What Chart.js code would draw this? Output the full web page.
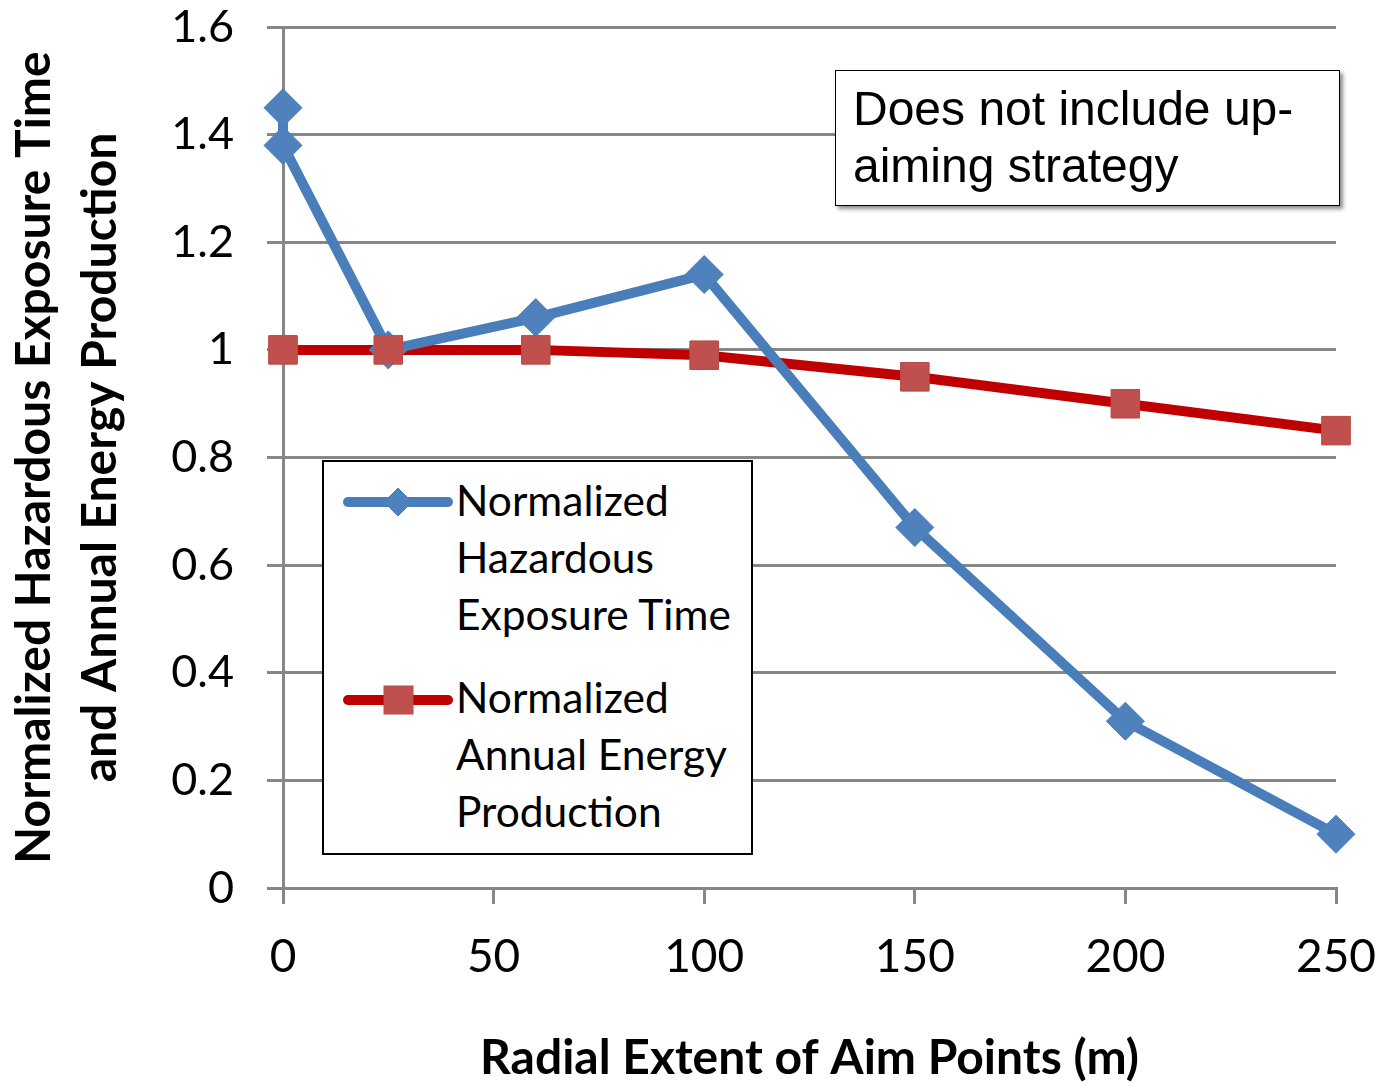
<!DOCTYPE html>
<html>
<head>
<meta charset="utf-8">
<script src="https://cdn.jsdelivr.net/npm/chart.js@4/dist/chart.umd.min.js"></script>
<style>
  html, body { margin: 0; padding: 0; background: #fff; }
  #wrap { position: relative; width: 1381px; height: 1083px; }
  #legend { position: absolute; left: 322px; top: 460px; width: 427px; height: 391px;
            border: 2.5px solid #000; background: #fff; font-family: Lato, sans-serif; }
  .lg-block { position: absolute; left: 132px; font-size: 42.5px; line-height: 57px; color: #000; white-space: nowrap; }
  .lg-sym { position: absolute; left: 18px; width: 112px; height: 36px; }
  #note { position: absolute; left: 835px; top: 70px; width: 503px; height: 134px;
          border: 1.5px solid #000; background: #fff; box-shadow: 3px 3px 4px rgba(0,0,0,0.45);
          font-family: "Liberation Sans", Arial, sans-serif; }
  #noteText { position: absolute; left: 17px; top: 9px; font-size: 48px; line-height: 57px; color: #000; white-space: nowrap; }
</style>
</head>
<body>
<div id="wrap">
  <canvas id="c" width="1381" height="1083"></canvas>
  <div id="legend"></div>
  <div id="note"><div id="noteText"></div></div>
</div>
<script>
// ---- data ----
const hazardX = [0, 0, 25, 60, 100, 150, 200, 250];
const hazardY = [1.45, 1.38, 1.00, 1.06, 1.14, 0.67, 0.31, 0.10];
const energyX = [0, 25, 60, 100, 150, 200, 250];
const energyY = [1.00, 1.00, 1.00, 0.99, 0.95, 0.90, 0.85];
const seriesNames = ['Normalized Hazardous Exposure Time', 'Normalized Annual Energy Production'];
const legendLines = [['Normalized', 'Hazardous', 'Exposure Time'], ['Normalized', 'Annual Energy', 'Production']];
const xTicks = [0, 50, 100, 150, 200, 250];
const yTicks = [0, 0.2, 0.4, 0.6, 0.8, 1, 1.2, 1.4, 1.6];
const xTitle = 'Radial Extent of Aim Points (m)';
const yTitle = ['Normalized Hazardous Exposure Time', 'and Annual Energy Production'];
const noteLines = ['Does not include up-', 'aiming strategy'];

const BLUE_LINE = '#4A7EBB', BLUE_MARK = '#4F81BD';
const RED_LINE = '#C00000', RED_MARK = '#C0504D';
const GRID = '#878787';

const toPts = (xs, ys) => xs.map((x, i) => ({ x: x, y: ys[i] }));

const redOnTop = {
  id: 'redOnTop',
  afterDatasetsDraw(chart) {
    const meta = chart.getDatasetMeta(1);
    meta.data.forEach(p => p.draw(chart.ctx));
  }
};

new Chart(document.getElementById('c'), {
  type: 'line',
  data: {
    datasets: [
      { label: seriesNames[0], data: toPts(hazardX, hazardY),
        borderColor: BLUE_LINE, borderWidth: 10, backgroundColor: BLUE_MARK,
        pointStyle: 'rectRot', pointRadius: 19, pointBorderColor: BLUE_LINE, pointBorderWidth: 1,
        pointBackgroundColor: BLUE_MARK, tension: 0, clip: false, borderJoinStyle: 'round', borderCapStyle: 'round' },
      { label: seriesNames[1], data: toPts(energyX, energyY),
        borderColor: RED_LINE, borderWidth: 10, backgroundColor: RED_MARK,
        pointStyle: 'rect', pointRadius: 20, pointBorderColor: '#BA4D4A', pointBorderWidth: 1,
        pointBackgroundColor: RED_MARK, tension: 0, clip: false, borderJoinStyle: 'round', borderCapStyle: 'round' }
    ]
  },
  options: {
    responsive: false,
    animation: false,
    events: [],
    layout: { padding: { top: 27, right: 45, bottom: 0, left: 0 } },
    plugins: { legend: { display: false }, tooltip: { enabled: false } },
    scales: {
      x: {
        type: 'linear', min: 0, max: 250,
        afterFit(s) { s.height = 195; s.paddingLeft = 0; s.paddingRight = 0; },
        afterBuildTicks(s) { s.ticks = xTicks.map(v => ({ value: v })); },
        grid: { drawOnChartArea: false, drawTicks: true, tickLength: 16, color: GRID, lineWidth: 3 },
        border: { display: true, color: GRID, width: 3 },
        ticks: { color: '#000', font: { family: 'Lato', size: 46 }, padding: 26, maxRotation: 0,
                 callback: v => String(v) },
        title: { display: true, text: xTitle, color: '#000',
                 font: { family: 'Lato', size: 48, weight: 'bold', lineHeight: 1.2 },
                 padding: { top: 0, bottom: -4 } }
      },
      y: {
        min: 0, max: 1.6,
        afterFit(s) { s.width = 283; s.paddingTop = 0; s.paddingBottom = 0; },
        afterBuildTicks(s) { s.ticks = yTicks.map(v => ({ value: v })); },
        grid: { drawOnChartArea: true, drawTicks: true, tickLength: 16, color: GRID, lineWidth: 3 },
        border: { display: true, color: GRID, width: 3 },
        ticks: { color: '#000', font: { family: 'Lato', size: 45 }, padding: 33,
                 callback: v => String(Number(v.toFixed(1))) },
        title: { display: true, text: yTitle, color: '#000',
                 font: { family: 'Lato', size: 48, weight: 'bold', lineHeight: 1.38 },
                 padding: { top: 1, bottom: 0 } }
      }
    }
  },
  plugins: [redOnTop]
});

// ---- legend (HTML) ----
const legend = document.getElementById('legend');
const blockTops = [9, 206];
const symbolTops = [22, 220];
legendLines.forEach((lines, i) => {
  const sym = document.createElement('div');
  sym.className = 'lg-sym';
  sym.style.top = symbolTops[i] + 'px';
  const marker = i === 0
    ? '<polygon points="56,4 70,18 56,32 42,18" fill="' + BLUE_MARK + '" stroke="' + BLUE_LINE + '" stroke-width="1"/>'
    : '<rect x="42" y="4" width="29" height="28" fill="' + RED_MARK + '" stroke="#BA4D4A" stroke-width="1"/>';
  sym.innerHTML = '<svg width="112" height="36" viewBox="0 0 112 36">' +
    '<line x1="6" y1="18" x2="106" y2="18" stroke="' + (i === 0 ? BLUE_LINE : RED_LINE) +
    '" stroke-width="10" stroke-linecap="round"/>' + marker + '</svg>';
  legend.appendChild(sym);
  const blk = document.createElement('div');
  blk.className = 'lg-block';
  blk.style.top = blockTops[i] + 'px';
  blk.innerHTML = lines.join('<br>');
  legend.appendChild(blk);
});
document.getElementById('noteText').innerHTML = noteLines.join('<br>');
</script>
</body>
</html>
